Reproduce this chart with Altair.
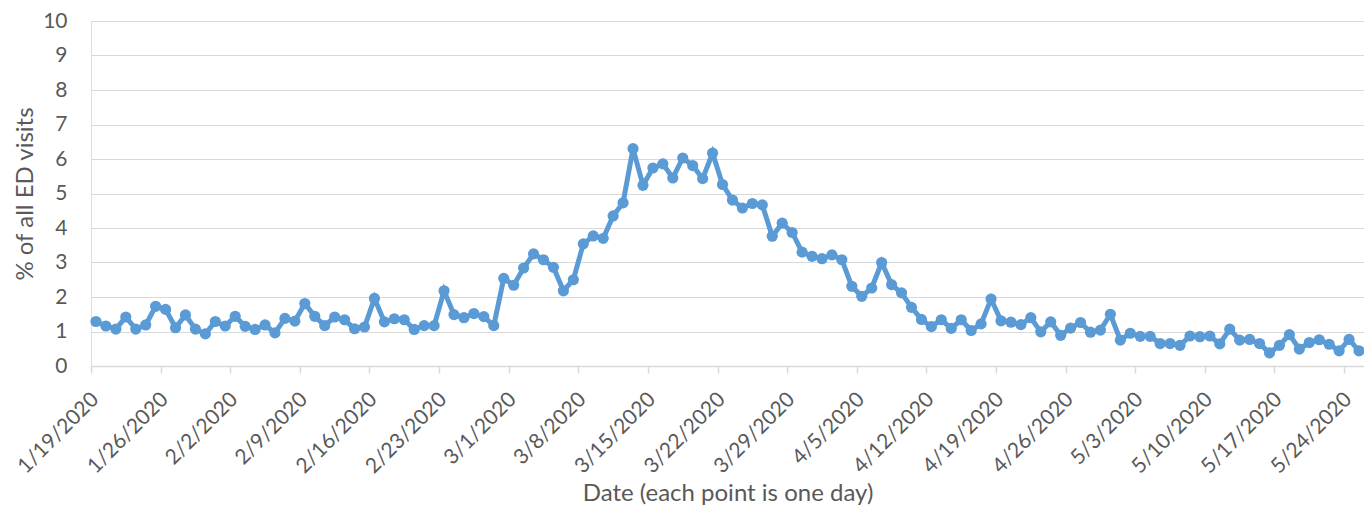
import json
import altair as alt
import pandas as pd

# Daily values (% of all ED visits), one per day starting 1/19/2020
values = [
    1.29, 1.16, 1.07, 1.42, 1.07, 1.19, 1.73, 1.64, 1.11, 1.48, 1.07, 0.93, 1.29, 1.16,
    1.44, 1.15, 1.06, 1.19, 0.96, 1.38, 1.30, 1.81, 1.44, 1.17, 1.42, 1.34, 1.08, 1.13,
    1.96, 1.28, 1.37, 1.34, 1.06, 1.17, 1.17, 2.18, 1.49, 1.40, 1.52, 1.43, 1.17, 2.54,
    2.34, 2.84, 3.25, 3.08, 2.86, 2.18, 2.50, 3.54, 3.77, 3.70, 4.35, 4.73, 6.30, 5.24,
    5.74, 5.86, 5.45, 6.03, 5.81, 5.43, 6.17, 5.26, 4.81, 4.58, 4.71, 4.67, 3.76, 4.14,
    3.87, 3.30, 3.18, 3.11, 3.22, 3.08, 2.31, 2.02, 2.26, 3.00, 2.36, 2.12, 1.70, 1.35,
    1.14, 1.34, 1.09, 1.34, 1.03, 1.22, 1.94, 1.31, 1.27, 1.20, 1.40, 0.99, 1.28, 0.89,
    1.10, 1.26, 0.98, 1.04, 1.50, 0.75, 0.95, 0.86, 0.86, 0.65, 0.65, 0.60, 0.87, 0.85,
    0.87, 0.64, 1.07, 0.75, 0.77, 0.65, 0.38, 0.60, 0.91, 0.49, 0.68, 0.76, 0.63, 0.44,
    0.77, 0.44,
]
dates = [d.strftime("%-m/%-d/%Y") for d in pd.date_range("2020-01-19", periods=len(values), freq="D")]

# Weekly tick labels
tick_labels = [
    "1/19/2020", "1/26/2020", "2/2/2020", "2/9/2020", "2/16/2020", "2/23/2020",
    "3/1/2020", "3/8/2020", "3/15/2020", "3/22/2020", "3/29/2020", "4/5/2020",
    "4/12/2020", "4/19/2020", "4/26/2020", "5/3/2020", "5/10/2020", "5/17/2020",
    "5/24/2020",
]
y_ticks = list(range(0, 11))

df = pd.DataFrame({
    "date": dates,
    "day": [i + 0.5 for i in range(len(values))],
    "pct": values,
})

FONT = "Lato"
GRAY = "#595959"
BLUE = "#5B9BD5"

x = alt.X(
    "day:Q",
    scale=alt.Scale(domain=[0, len(values)], nice=False, zero=False),
    axis=alt.Axis(
        title="Date (each point is one day)",
        values=[7 * i for i in range(len(tick_labels))],
        labelExpr=json.dumps(tick_labels) + "[round(datum.value / 7)]",
        labelAngle=-45,
        labelAlign="right",
        labelBaseline="middle",
        labelPadding=23,
        labelOffset=4,
        labelFontSize=21,
        labelColor=GRAY,
        labelFont=FONT,
        titleFont=FONT,
        titleFontSize=24,
        titleFontWeight="normal",
        titleColor=GRAY,
        titlePadding=5,
        grid=False,
        domainColor="#D9D9D9",
        domainWidth=1.5,
        tickColor="#D9D9D9",
        tickWidth=1.5,
        tickSize=7,
        labelOverlap=False,
    ),
)
y = alt.Y(
    "pct:Q",
    scale=alt.Scale(domain=[0, 10], nice=False),
    axis=alt.Axis(
        title="% of all ED visits",
        values=y_ticks,
        labelFontSize=21,
        labelColor=GRAY,
        labelFont=FONT,
        labelPadding=24,
        titleFont=FONT,
        titleFontSize=24,
        titleFontWeight="normal",
        titleColor=GRAY,
        titlePadding=5,
        grid=True,
        gridColor="#D9D9D9",
        gridWidth=1.2,
        domain=False,
        ticks=False,
    ),
)

base = alt.Chart(df).encode(x=x, y=y)
line = base.mark_line(color=BLUE, strokeWidth=5)
pts = base.mark_circle(color=BLUE, size=125, opacity=1)

chart = (
    (line + pts)
    .properties(
        width=1273,
        height=345,
        autosize=alt.AutoSizeParams(type="none"),
        padding={"left": 83, "top": 13, "right": 0, "bottom": 142},
    )
    .configure_view(stroke=None)
    .configure(background="white")
)

chart.save("out.html", embed_options={"renderer": "svg", "actions": False})
